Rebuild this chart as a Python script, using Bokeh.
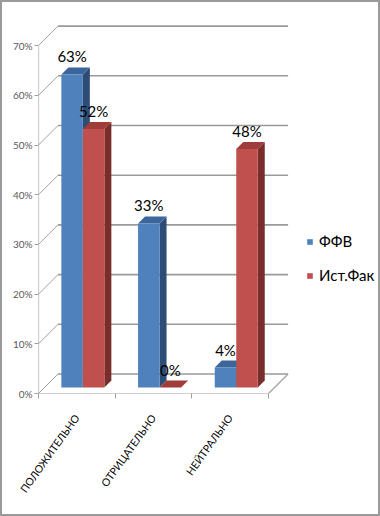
import math
from bokeh.plotting import figure
from bokeh.models import (Range1d, FixedTicker, NumeralTickFormatter, Legend,
                          LegendItem, ColumnDataSource)
from bokeh.core.properties import value
from bokeh.embed import file_html
from bokeh.resources import INLINE

# ---------------- data ----------------
categories = ["ПОЛОЖИТЕЛЬНО", "ОТРИЦАТЕЛЬНО", "НЕЙТРАЛЬНО"]
series_names = ["ФФВ", "Ист.Фак"]
ffv_values = [0.63, 0.33, 0.04]
ist_values = [0.52, 0.00, 0.48]
y_ticks = [0.0, 0.1, 0.2, 0.3, 0.4, 0.5, 0.6, 0.7]

# ---------------- layout / style ----------------
W, H = 380, 516
LEFT, BOTTOM = 38, 123
PX_X = 76.7          # pixels per category
PX_Y = 497.0         # pixels per 100 %
FONT = "Lato"

def dx(px):
    return px / PX_X

def dy(px):
    return px / PX_Y

n = len(categories)
DEPTH_X, DEPTH_Y = dx(19.5), dy(19.5)
BAR_SHIFT = dx(6)
BAR_BASE = dy(6)
BAR_W = dx(21.5)
CAP_X, CAP_Y = dx(7), dy(7)

colors = {
    "front": ["#4F81BD", "#C0504D"],
    "top": ["#3C659B", "#9F3D3A"],
    "side": ["#2E4D76", "#7A2E2C"],
}

p = figure(width=W, height=H, output_backend="svg", toolbar_location=None,
           x_range=Range1d(0, (W - LEFT) / PX_X),
           y_range=Range1d(0, (H - BOTTOM) / PX_Y),
           min_border_left=LEFT, min_border_bottom=BOTTOM,
           min_border_top=0, min_border_right=0)
p.outline_line_color = None
p.grid.visible = False
p.background_fill_color = None
p.border_fill_color = None
p.styles = {"outline": "2px solid #9a9a9a", "outline-offset": "-2px",
            "background-color": "white"}

# ---------------- 3D walls / floor ----------------
grid_src = ColumnDataSource(dict(
    x0=[0.0] * len(y_ticks), y0=y_ticks,
    x1=[DEPTH_X] * len(y_ticks), y1=[t + DEPTH_Y for t in y_ticks]))
p.segment("x0", "y0", "x1", "y1", source=grid_src, line_color="#a0a0a0", line_width=1)
back_src = ColumnDataSource(dict(
    x0=[DEPTH_X] * len(y_ticks), y0=[t + DEPTH_Y for t in y_ticks],
    x1=[n + DEPTH_X] * len(y_ticks), y1=[t + DEPTH_Y for t in y_ticks]))
p.segment("x0", "y0", "x1", "y1", source=back_src, line_color="#9a9a9a", line_width=1.6)
floor_src = ColumnDataSource(dict(x0=[0.0, n, 0.0], y0=[0.0, 0.0, 0.0],
                                  x1=[n, n + DEPTH_X, 0.0],
                                  y1=[0.0, DEPTH_Y, y_ticks[-1]]))
p.segment("x0", "y0", "x1", "y1", source=floor_src, line_color="#a0a0a0", line_width=1.2)

# ---------------- bars ----------------
front_renderers = []
for s, vals in enumerate([ffv_values, ist_values]):
    lefts, rights, tops = [], [], []
    side_xs, side_ys, top_xs, top_ys = [], [], [], []
    for i, v in enumerate(vals):
        c = i + 0.5 + BAR_SHIFT
        l = c - BAR_W + s * BAR_W
        r = l + BAR_W
        t = BAR_BASE + v
        lefts.append(l); rights.append(r); tops.append(t)
        side_xs.append([r, r + CAP_X, r + CAP_X, r])
        side_ys.append([BAR_BASE, BAR_BASE + CAP_Y, t + CAP_Y, t])
        top_xs.append([l, r, r + CAP_X, l + CAP_X])
        top_ys.append([t, t, t + CAP_Y, t + CAP_Y])
    p.patches(side_xs, side_ys, fill_color=colors["side"][s], line_color=None)
    p.patches(top_xs, top_ys, fill_color=colors["top"][s], line_color=None)
    fr = p.quad(left=lefts, right=rights, bottom=[BAR_BASE] * n, top=tops,
                fill_color=colors["front"][s], line_color=None)
    front_renderers.append(fr)
    lbl = ColumnDataSource(dict(x=[(a + b) / 2 for a, b in zip(lefts, rights)], y=tops,
                                text=["%d%%" % round(v * 100) for v in vals]))
    p.text("x", "y", text="text", source=lbl, text_align="center",
           text_baseline="alphabetic", y_offset=-18,
           text_font=value(FONT), text_font_size="15px", text_color="#000000")

# ---------------- axes ----------------
yax = p.yaxis[0]
yax.ticker = FixedTicker(ticks=y_ticks)
yax.formatter = NumeralTickFormatter(format="0%")
yax.axis_line_color = None
yax.major_tick_out = 4
yax.major_tick_in = 0
yax.major_tick_line_color = "#a0a0a0"
yax.minor_tick_line_color = None
yax.major_label_standoff = 2
yax.major_label_text_font = FONT
yax.major_label_text_font_size = "10px"
yax.major_label_text_color = "#595959"

centers = [i + 0.5 for i in range(n)]
xax = p.xaxis[0]
xax.ticker = FixedTicker(ticks=centers, minor_ticks=list(range(n + 1)))
xax.major_label_overrides = {c: name for c, name in zip(centers, categories)}
xax.axis_line_color = None
xax.major_tick_line_color = None
xax.major_tick_out = 0
xax.major_tick_in = 0
xax.minor_tick_out = 5
xax.minor_tick_in = 0
xax.minor_tick_line_color = "#a0a0a0"
xax.major_label_orientation = 0.95
xax.major_label_standoff = 17
xax.major_label_text_font = FONT
xax.major_label_text_font_size = "10.5px"
xax.major_label_text_color = "#000000"

# ---------------- legend ----------------
legend = Legend(items=[LegendItem(label=nm, renderers=[r])
                       for nm, r in zip(series_names, front_renderers)],
                location=(268, 108), orientation="vertical",
                glyph_width=7, glyph_height=7, label_height=20,
                spacing=14, padding=0, margin=0, label_standoff=6,
                border_line_color=None, background_fill_alpha=0,
                label_text_font=FONT, label_text_font_size="15px",
                label_text_color="#000000")
p.add_layout(legend, "center")

open("out.html", "w").write(file_html(p, INLINE))
